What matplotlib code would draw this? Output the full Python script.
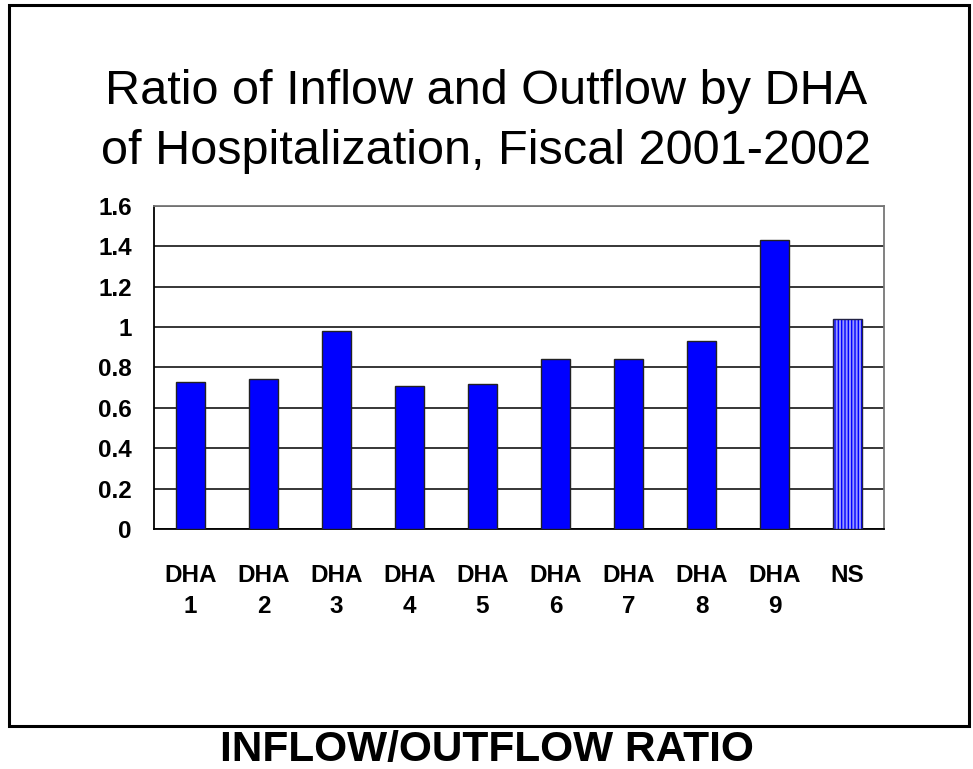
import matplotlib.pyplot as plt
from matplotlib.patches import Rectangle

categories = ["DHA\n1", "DHA\n2", "DHA\n3", "DHA\n4", "DHA\n5",
              "DHA\n6", "DHA\n7", "DHA\n8", "DHA\n9", "NS"]
ratios = [0.73, 0.745, 0.98, 0.71, 0.72, 0.84, 0.84, 0.93, 1.43, 1.04]
y_ticks = [0, 0.2, 0.4, 0.6, 0.8, 1, 1.2, 1.4, 1.6]
y_tick_labels = ["0", "0.2", "0.4", "0.6", "0.8", "1", "1.2", "1.4", "1.6"]

plt.rcParams["font.family"] = ["Liberation Sans", "DejaVu Sans"]

W, H = 973, 769
fig = plt.figure(figsize=(W / 100, H / 100), dpi=100)

# outer frame
fig.patches.append(Rectangle((9 / W, 1 - 726 / H), (969 - 9) / W, (726 - 5) / H,
                             transform=fig.transFigure, fill=False,
                             edgecolor="black", linewidth=2.2))

ax = fig.add_axes([154 / W, 1 - 529 / H, (884 - 154) / W, (529 - 206) / H])

x = list(range(len(categories)))
main_x = x[:-1]
main_v = ratios[:-1]
ax.bar(main_x, main_v, width=0.41, color="#0000ff", edgecolor="#222222",
       linewidth=1.0, zorder=3)
# NS bar: light blue with vertical hatch
ax.bar([x[-1]], [ratios[-1]], width=0.41, color="#9999ff", edgecolor="#0000ff",
       hatch="|||||", linewidth=0, zorder=3)
ax.bar([x[-1]], [ratios[-1]], width=0.41, fill=False, edgecolor="#222244",
       linewidth=1.0, zorder=4)

ax.set_xlim(-0.5, len(categories) - 0.5)
ax.set_ylim(0, 1.6)
ax.set_yticks(y_ticks)
ax.set_yticklabels(y_tick_labels, fontsize=17.5, fontweight="bold")
ax.set_xticks(x)
ax.set_xticklabels(categories, fontsize=17.5, fontweight="bold", linespacing=1.45,
                   va="top")
ax.tick_params(axis="x", length=0, pad=25)
ax.tick_params(axis="y", length=0, pad=16)
ax.yaxis.grid(True, color="black", linewidth=1.1, zorder=0)
ax.set_axisbelow(True)
for side in ["left", "bottom"]:
    ax.spines[side].set_linewidth(1.3)
    ax.spines[side].set_color("black")
for side in ["top", "right"]:
    ax.spines[side].set_linewidth(1.3)
    ax.spines[side].set_color("#777777")

fig.text(0.5, 1 - 92 / H, "Ratio of Inflow and Outflow by DHA",
         ha="center", va="center", fontsize=35)
fig.text(0.5, 1 - 152 / H, "of Hospitalization, Fiscal 2001-2002",
         ha="center", va="center", fontsize=35)

fig.text(0.5, 1 - 761 / H, "INFLOW/OUTFLOW RATIO", ha="center", va="baseline",
         fontsize=30.5, fontweight="bold",
         family=["Liberation Sans Narrow", "Liberation Sans", "DejaVu Sans"],
         fontstretch="condensed")

fig.savefig("out.png", dpi=100)
